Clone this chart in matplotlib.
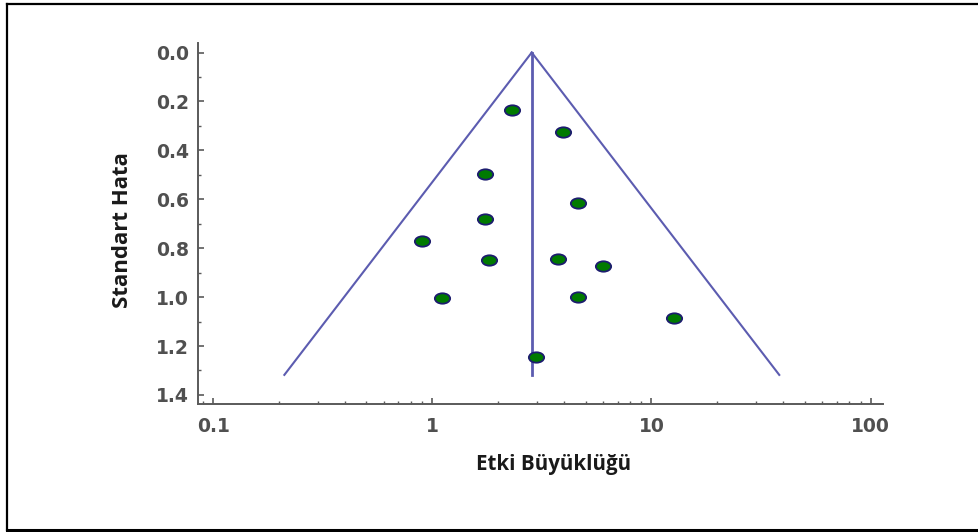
import matplotlib.pyplot as plt
from matplotlib.lines import Line2D
from matplotlib.path import Path
from matplotlib.ticker import MultipleLocator, LogLocator, NullFormatter

# effect sizes (odds ratios) and standard errors
effect_size = [2.30, 3.93, 1.74, 4.63, 1.74, 0.90, 1.81, 3.75, 5.99, 1.11, 4.63, 12.7, 2.97]
std_error = [0.235, 0.326, 0.498, 0.617, 0.682, 0.769, 0.848, 0.844, 0.873, 1.005, 0.998, 1.086, 1.244]

# pooled estimate and funnel limits
pooled = 2.84
funnel_se = [0.0, 1.318]
funnel_left = [2.84, 0.211]
funnel_right = [2.84, 38.3]

x_ticks = [0.1, 1, 10, 100]
x_tick_labels = ["0.1", "1", "10", "100"]
y_ticks = [0.0, 0.2, 0.4, 0.6, 0.8, 1.0, 1.2, 1.4]
y_tick_labels = ["0.0", "0.2", "0.4", "0.6", "0.8", "1.0", "1.2", "1.4"]

line_col = "#5c5cb0"
axis_col = "#5a5a5a"

fig = plt.figure(figsize=(9.79, 5.32), dpi=100)
ax = fig.add_axes([0.2022, 0.2406, 0.6997, 0.6786])

# funnel
ax.plot(funnel_left, funnel_se, color=line_col, lw=1.5)
ax.plot(funnel_right, funnel_se, color=line_col, lw=1.5)
ax.plot([pooled, pooled], funnel_se, color=line_col, lw=2.0)

# ellipse marker
circ = Path.unit_circle()
ellipse = Path(circ.vertices * [1.0, 0.68], circ.codes)
ax.plot(effect_size, std_error, linestyle="none", marker=ellipse, markersize=11,
        markerfacecolor="#007a00", markeredgecolor="#1c1c6e", markeredgewidth=1.3)

ax.set_xscale("log")
ax.set_xlim(0.0851, 113.9)
ax.set_ylim(1.437, -0.039)

ax.set_xticks(x_ticks)
ax.set_xticklabels(x_tick_labels)
ax.xaxis.set_minor_locator(LogLocator(base=10, subs=range(2, 10)))
ax.xaxis.set_minor_formatter(NullFormatter())
ax.set_yticks(y_ticks)
ax.set_yticklabels(y_tick_labels)
ax.yaxis.set_minor_locator(MultipleLocator(0.1))

for side in ["top", "right"]:
    ax.spines[side].set_visible(False)
for side in ["left", "bottom"]:
    ax.spines[side].set_color(axis_col)
    ax.spines[side].set_linewidth(1.4)

ax.tick_params(which="major", direction="in", length=4, width=1.2, color=axis_col,
               labelcolor="#505050", labelsize=13.5)
ax.tick_params(which="minor", direction="in", length=2.2, width=1.0, color=axis_col)
ax.tick_params(axis="y", which="major", pad=6.5)
ax.tick_params(axis="x", which="major", pad=9)
for lbl in ax.get_xticklabels() + ax.get_yticklabels():
    lbl.set_family("DejaVu Sans")
    lbl.set_fontweight("bold")

fig.text(0.5654, 1 - 470 / 532, "Etki Büyüklüğü", ha="center", va="baseline",
         fontsize=14.8, fontweight="bold", family="Open Sans", color="#1a1a1a")
fig.text(0.1256, 0.5677, "Standart Hata", ha="center", va="center", rotation=90,
         fontsize=16, fontweight="bold", family="Open Sans", color="#1a1a1a")

# outer frame (top, left, bottom)
h = 532.0
w = 979.0
fig.add_artist(Line2D([7 / w, 1.0], [1 - 3.5 / h, 1 - 3.5 / h], color="black", lw=1.6))
fig.add_artist(Line2D([7 / w, 7 / w], [1 - 3.5 / h, 1 - 530 / h], color="black", lw=1.6))
fig.add_artist(Line2D([7 / w, 1.0], [1 - 530 / h, 1 - 530 / h], color="black", lw=2.2))

plt.savefig("out.png", dpi=100)
plt.close()
